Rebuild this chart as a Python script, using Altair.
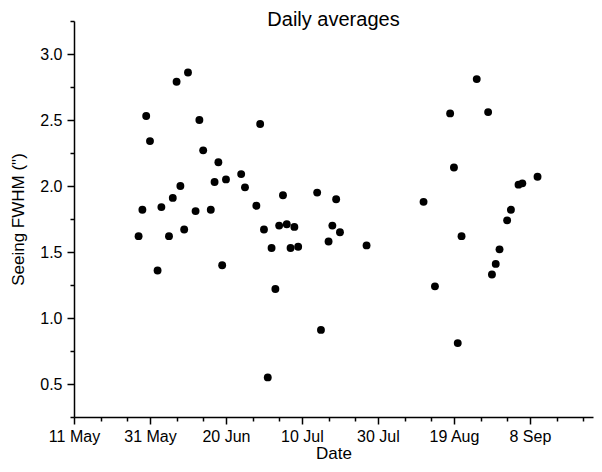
import altair as alt
import pandas as pd
from datetime import datetime, timezone

# ---- data ----
dates = [
    "2011-05-28", "2011-05-29", "2011-05-30", "2011-05-31", "2011-06-02",
    "2011-06-03", "2011-06-05", "2011-06-06", "2011-06-07", "2011-06-08",
    "2011-06-09", "2011-06-10", "2011-06-12", "2011-06-13", "2011-06-14",
    "2011-06-16", "2011-06-17", "2011-06-18", "2011-06-19", "2011-06-20",
    "2011-06-24", "2011-06-25", "2011-06-28", "2011-06-29", "2011-06-30",
    "2011-07-01", "2011-07-02", "2011-07-03", "2011-07-04", "2011-07-05",
    "2011-07-06", "2011-07-07", "2011-07-08", "2011-07-09", "2011-07-14",
    "2011-07-15", "2011-07-17", "2011-07-18", "2011-07-19", "2011-07-20",
    "2011-07-27", "2011-08-11", "2011-08-14", "2011-08-18", "2011-08-19",
    "2011-08-20", "2011-08-21", "2011-08-25", "2011-08-28", "2011-08-29",
    "2011-08-30", "2011-08-31", "2011-09-02", "2011-09-03", "2011-09-05",
    "2011-09-06", "2011-09-10",
]
seeing = [
    1.62, 1.82, 2.53, 2.34, 1.36,
    1.84, 1.62, 1.91, 2.79, 2.00,
    1.67, 2.86, 1.81, 2.50, 2.27,
    1.82, 2.03, 2.18, 1.40, 2.05,
    2.09, 1.99, 1.85, 2.47, 1.67,
    0.55, 1.53, 1.22, 1.70, 1.93,
    1.71, 1.53, 1.69, 1.54, 1.95,
    0.91, 1.58, 1.70, 1.90, 1.65,
    1.55, 1.88, 1.24, 2.55, 2.14,
    0.81, 1.62, 2.81, 2.56, 1.33,
    1.41, 1.52, 1.74, 1.82, 2.01,
    2.02, 2.07,
]

# axis layout values
major_step_days = 20
minor_offsets_days = [7, 14]
n_major = 7
y_ticks = [0.25 + 0.25 * i for i in range(13)]

df = pd.DataFrame({"date": dates, "seeing": seeing})

DAY = 86400000
t0 = int(datetime(2011, 5, 11, tzinfo=timezone.utc).timestamp() * 1000)
x_end = t0 + int(136.6 * DAY)
x_vals = []
for i in range(n_major):
    base = t0 + i * major_step_days * DAY
    x_vals.append(base)
    for o in minor_offsets_days:
        x_vals.append(base + o * DAY)

is_major_x = f"round((datum.value - {t0}) / {DAY}) % {major_step_days} == 0"
is_major_y = "abs(datum.value * 2 - round(datum.value * 2)) < 0.001"

FONT = "Liberation Sans"

chart = (
    alt.Chart(df)
    .mark_circle(size=62, color="black", opacity=1)
    .encode(
        x=alt.X(
            "date:T",
            scale=alt.Scale(type="utc", domain=[t0, x_end], nice=False),
            axis=alt.Axis(
                title="Date",
                values=x_vals,
                labelExpr=f"{is_major_x} ? utcFormat(datum.value, '%-d %b') : ''",
                tickSize={"condition": {"test": is_major_x, "value": 7}, "value": 4},
                grid=False,
                domainColor="black",
                domainWidth=1.5,
                tickColor="black",
                tickWidth=1.5,
                labelFont=FONT,
                labelFontSize=16,
                labelColor="black",
                labelPadding=4,
                labelFlush=False,
                labelOverlap=False,
                titleFont=FONT,
                titleFontSize=17,
                titleFontWeight="normal",
                titleColor="black",
                titlePadding=1,
            ),
        ),
        y=alt.Y(
            "seeing:Q",
            scale=alt.Scale(domain=[0.25, 3.25], nice=False, zero=False),
            axis=alt.Axis(
                title='Seeing FWHM (")',
                values=y_ticks,
                labelExpr=f"{is_major_y} ? format(datum.value, '.1f') : ''",
                tickSize={"condition": {"test": is_major_y, "value": 7}, "value": 4},
                grid=False,
                domainColor="black",
                domainWidth=1.5,
                tickColor="black",
                tickWidth=1.5,
                labelFont=FONT,
                labelFontSize=16,
                labelColor="black",
                labelPadding=5,
                labelOverlap=False,
                labelFlush=False,
                titleFont=FONT,
                titleFontSize=17,
                titleFontWeight="normal",
                titleColor="black",
                titlePadding=12,
            ),
        ),
    )
    .properties(
        width=519,
        height=396,
        title=alt.TitleParams(
            "Daily averages",
            font=FONT,
            fontSize=20,
            fontWeight="normal",
            color="black",
            anchor="middle",
            frame="group",
            baseline="alphabetic",
            offset=-33,
        ),
        autosize=alt.AutoSizeParams(type="none"),
        padding={"left": 66, "top": 13, "right": 1, "bottom": 45},
        background="white",
    )
    .configure_view(strokeWidth=0)
)

chart.save("out.html", embed_options={"renderer": "svg", "actions": False})
